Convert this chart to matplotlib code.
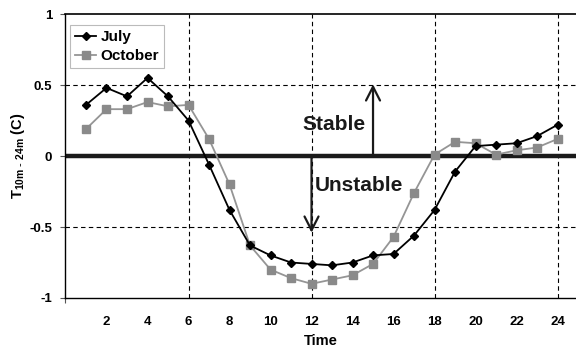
import matplotlib
matplotlib.use('Agg')
import matplotlib.pyplot as plt

plt.rcParams['font.family'] = ['Liberation Sans', 'DejaVu Sans']

hours = list(range(1, 25))
july = [0.36, 0.48, 0.42, 0.55, 0.42, 0.25, -0.06, -0.38, -0.63, -0.70,
        -0.75, -0.76, -0.77, -0.75, -0.70, -0.69, -0.56, -0.38, -0.11, 0.07,
        0.08, 0.09, 0.14, 0.22]
october = [0.19, 0.33, 0.33, 0.38, 0.35, 0.36, 0.12, -0.20, -0.63, -0.80,
           -0.86, -0.90, -0.87, -0.84, -0.76, -0.57, -0.26, 0.01, 0.10, 0.09,
           0.01, 0.04, 0.06, 0.12]
xtick_labels = list(range(2, 25, 2))
yticks = [-1, -0.5, 0, 0.5, 1]
ytick_labels = ['-1', '-0.5', '0', '0.5', '1']

fig = plt.figure(figsize=(5.76, 3.51), dpi=100)
ax = fig.add_axes([0.1137, 0.151, 0.8863, 0.809])

# dashed grid
for x in [6, 12, 18, 24]:
    ax.axvline(x, color='black', linestyle=(0, (4, 3)), linewidth=0.8, zorder=1)
for y in [0.5, -0.5]:
    ax.axhline(y, color='black', linestyle=(0, (4, 3)), linewidth=0.8, zorder=1)

ax.axhline(0, color='#1a1a1a', linewidth=3.2, zorder=2)

ax.plot(hours, july, color='black', marker='D', markersize=4.2,
        linewidth=1.3, label='July', zorder=4)
ax.plot(hours, october, color='#959595', marker='s', markersize=6,
        markerfacecolor='#8a8a8a', markeredgecolor='#8a8a8a',
        linewidth=1.3, label='October', zorder=3)

# stability arrows
arrow_style = '->,head_length=0.55,head_width=0.28'
ax.annotate('', xy=(15, 0.505), xytext=(15, 0),
            arrowprops=dict(arrowstyle=arrow_style, color='#1a1a1a', lw=1.6,
                            mutation_scale=18, shrinkA=0, shrinkB=0), zorder=5)
ax.annotate('', xy=(12, -0.54), xytext=(12, 0),
            arrowprops=dict(arrowstyle=arrow_style, color='#1a1a1a', lw=1.6,
                            mutation_scale=18, shrinkA=0, shrinkB=0), zorder=5)
ax.text(11.58, 0.225, 'Stable', fontsize=15, fontweight='bold',
        color='#1a1a1a', ha='left', va='center', zorder=6)
ax.text(12.17, -0.21, 'Unstable', fontsize=15, fontweight='bold',
        color='#1a1a1a', ha='left', va='center', zorder=6)

ax.set_xlim(0, 24.9)
ax.set_ylim(-1, 1)
ax.set_xticks(xtick_labels)
ax.set_xticklabels([str(v) for v in xtick_labels], fontsize=9.5, fontweight='bold')
ax.tick_params(axis='x', length=0, pad=13)
ax.set_xticks([0, 6, 12, 18, 24], minor=True)
ax.tick_params(axis='x', which='minor', length=3.5, direction='out', width=0.8,
               color='#555555')
ax.set_yticks(yticks)
ax.set_yticklabels(ytick_labels, fontsize=9.5, fontweight='bold')
ax.tick_params(axis='y', length=3.5, width=0.8, color='#555555', pad=6)

ax.spines['right'].set_visible(False)
ax.spines['top'].set_linewidth(1.2)
ax.spines['left'].set_linewidth(1.0)
ax.spines['bottom'].set_linewidth(1.0)

ax.set_xlabel('Time', fontsize=10.5, fontweight='bold', labelpad=4)
ax.set_ylabel(r'T$_{\mathregular{10m\ \text{-}\ 24m}}$ (C)', fontsize=10.5,
              fontweight='bold', labelpad=2)

leg = ax.legend(loc='upper left', bbox_to_anchor=(0.009, 0.961),
                borderaxespad=0, prop={'weight': 'bold', 'size': 11},
                fancybox=False, edgecolor='#bbbbbb', framealpha=1,
                handlelength=1.35, handletextpad=0.3, borderpad=0.35,
                labelspacing=0.3)
leg.get_frame().set_linewidth(0.8)

fig.savefig('out.png', dpi=100)
